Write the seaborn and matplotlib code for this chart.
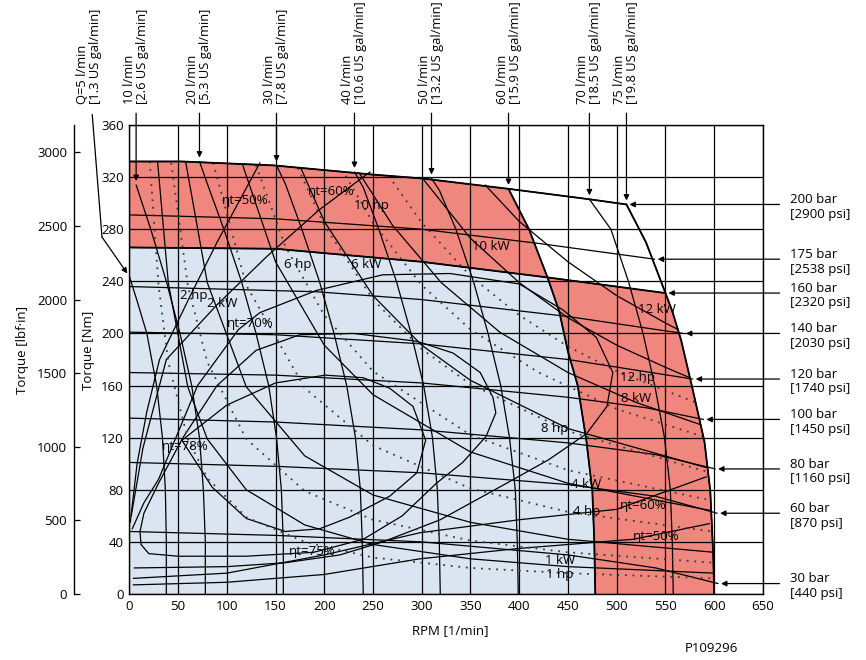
import pandas as pd
import seaborn as sns
import matplotlib.pyplot as plt

# ---- pressure lines (rpm, torque Nm) ----
p200_rpm = [0, 54, 148, 249, 300, 389, 472, 510]
p200_nm = [332, 332, 329, 322, 319, 311, 303, 299]
p175_rpm = [0, 150, 300, 421, 539]
p175_nm = [291, 288, 280, 269, 257]
p160_rpm = [0, 150, 300, 429, 550]
p160_nm = [266, 265, 255, 243, 231]
p140_rpm = [0, 192, 300, 450, 568]
p140_nm = [236, 232, 226, 213, 200]
p120_rpm = [0, 150, 300, 450, 578]
p120_nm = [201, 199, 192, 180, 165]
p100_rpm = [0, 150, 300, 450, 530, 589]
p100_nm = [170, 168, 162, 151, 143, 134]
p80_rpm = [0, 150, 300, 450, 540, 601]
p80_nm = [135, 132, 126, 116, 107, 96]
p60_rpm = [0, 150, 300, 450, 540, 603]
p60_nm = [101, 98, 93, 84, 75, 62]
p30_rpm = [0, 150, 300, 450, 540, 604]
p30_nm = [48, 45, 40, 30, 20, 8]

pressure_names = ['200 bar\n[2900 psi]', '175 bar\n[2538 psi]', '160 bar\n[2320 psi]',
                  '140 bar\n[2030 psi]', '120 bar\n[1740 psi]', '100 bar\n[1450 psi]',
                  '80 bar\n[1160 psi]', '60 bar\n[870 psi]', '30 bar\n[440 psi]']
pressure_lines = [(p200_rpm, p200_nm), (p175_rpm, p175_nm), (p160_rpm, p160_nm),
                  (p140_rpm, p140_nm), (p120_rpm, p120_nm), (p100_rpm, p100_nm),
                  (p80_rpm, p80_nm), (p60_rpm, p60_nm), (p30_rpm, p30_nm)]

# ---- flow lines ----
q5_rpm = [38, 38, 37, 34, 28, 18, 8, 0]
q5_nm = [0, 40, 80, 120, 160, 200, 225, 244]
q10_rpm = [78, 78, 76, 72, 64, 52, 38, 22, 7]
q10_nm = [0, 40, 80, 120, 160, 200, 240, 280, 314]
q20_rpm = [158, 158, 156, 151, 143, 130, 115, 97, 80, 72]
q20_nm = [0, 40, 80, 120, 160, 200, 240, 280, 315, 332]
q30_rpm = [240, 239, 237, 232, 223, 210, 195, 177, 160, 151]
q30_nm = [0, 40, 80, 120, 160, 200, 240, 280, 315, 329]
q40_rpm = [319, 318, 316, 311, 302, 289, 274, 256, 240, 231]
q40_nm = [0, 40, 80, 120, 160, 200, 240, 280, 312, 324]
q50_rpm = [399, 398, 396, 390, 381, 368, 353, 335, 318, 310]
q50_nm = [0, 40, 80, 120, 160, 200, 240, 280, 310, 319]
q60_rpm = [478, 477, 475, 469, 460, 450, 441, 429, 410, 389]
q60_nm = [0, 40, 79, 117, 160, 186, 217, 243, 280, 311]
q70_rpm = [558, 557, 555, 549, 539, 527, 512, 494, 472]
q70_nm = [0, 40, 80, 120, 160, 200, 240, 280, 303]
q75_rpm = [600, 599, 596, 590, 577, 566, 557, 550, 530, 510]
q75_nm = [0, 30, 79, 117, 160, 195, 217, 231, 270, 299]

flow_names = ['Q=5 l/min\n[1.3 US gal/min]', '10 l/min\n[2.6 US gal/min]',
              '20 l/min\n[5.3 US gal/min]', '30 l/min\n[7.8 US gal/min]',
              '40 l/min\n[10.6 US gal/min]', '50 l/min\n[13.2 US gal/min]',
              '60 l/min\n[15.9 US gal/min]', '70 l/min\n[18.5 US gal/min]',
              '75 l/min\n[19.8 US gal/min]']
flow_lines = [(q5_rpm, q5_nm), (q10_rpm, q10_nm), (q20_rpm, q20_nm), (q30_rpm, q30_nm),
              (q40_rpm, q40_nm), (q50_rpm, q50_nm), (q60_rpm, q60_nm), (q70_rpm, q70_nm),
              (q75_rpm, q75_nm)]

# ---- power lines, kW solid ----
kw1_rpm = [29, 40, 60, 80, 120, 180, 250, 350, 450, 600]
kw1_nm = [332, 239, 159, 119, 80, 53, 38, 27, 21, 16]
kw2_rpm = [58, 80, 120, 180, 250, 350, 450, 600]
kw2_nm = [331, 239, 159, 106, 76, 55, 42, 32]
kw4_rpm = [116, 150, 200, 250, 350, 450, 597]
kw4_nm = [330, 255, 191, 153, 109, 85, 64]
kw6_rpm = [176, 200, 250, 300, 350, 450, 592]
kw6_nm = [327, 286, 229, 191, 164, 127, 97]
kw8_rpm = [236, 270, 320, 380, 450, 520, 586]
kw8_nm = [323, 283, 239, 201, 170, 147, 130]
kw10_rpm = [302, 350, 400, 450, 500, 550, 575]
kw10_nm = [318, 273, 239, 212, 191, 174, 166]
kw12_rpm = [365, 400, 450, 500, 550, 563]
kw12_nm = [314, 286, 255, 229, 208, 203]

# ---- power lines, hp dotted ----
hp1_rpm = [21, 30, 40, 60, 80, 120, 180, 250, 350, 450, 600]
hp1_nm = [332, 237, 178, 119, 89, 59, 40, 28, 20, 16, 12]
hp2_rpm = [43, 60, 80, 120, 180, 250, 350, 450, 600]
hp2_nm = [331, 237, 178, 119, 79, 57, 41, 32, 24]
hp4_rpm = [86, 120, 180, 250, 350, 450, 598]
hp4_nm = [331, 237, 158, 114, 81, 63, 48]
hp6_rpm = [130, 160, 200, 250, 350, 450, 596]
hp6_nm = [329, 267, 214, 171, 122, 95, 72]
hp8_rpm = [173, 200, 250, 300, 350, 450, 592]
hp8_nm = [327, 283, 226, 188, 161, 125, 94]
hp10_rpm = [222, 250, 300, 350, 420, 500, 588]
hp10_nm = [321, 285, 237, 203, 170, 142, 121]
hp12_rpm = [266, 300, 350, 400, 450, 500, 581]
hp12_nm = [321, 285, 244, 214, 190, 171, 147]

kw_lines = [(kw1_rpm, kw1_nm), (kw2_rpm, kw2_nm), (kw4_rpm, kw4_nm), (kw6_rpm, kw6_nm),
            (kw8_rpm, kw8_nm), (kw10_rpm, kw10_nm), (kw12_rpm, kw12_nm)]
hp_lines = [(hp1_rpm, hp1_nm), (hp2_rpm, hp2_nm), (hp4_rpm, hp4_nm), (hp6_rpm, hp6_nm),
            (hp8_rpm, hp8_nm), (hp10_rpm, hp10_nm), (hp12_rpm, hp12_nm)]

# ---- total efficiency contours ----
eta50a_rpm = [1, 8, 18, 31, 60, 90, 134]
eta50a_nm = [55, 100, 140, 180, 225, 270, 331]
eta50b_rpm = [4, 100, 200, 298, 400, 517, 595]
eta50b_nm = [7, 9, 15, 27, 35, 42, 54]
eta60a_rpm = [2, 14, 38, 90, 141, 195, 247]
eta60a_nm = [60, 112, 180, 222, 259, 295, 324]
eta60b_rpm = [4, 100, 200, 298, 400, 500, 592]
eta60b_nm = [12, 16, 30, 47, 57, 65, 90]
eta70_rpm = [3, 15, 30, 70, 112, 134, 192, 260, 329, 400, 445, 479, 496, 490, 469, 430,
             387, 319, 260, 216, 160, 100, 5]
eta70_nm = [50, 70, 88, 160, 203, 216, 233, 245, 246, 238, 218, 197, 170, 144, 123, 103,
            85, 57, 40, 30, 24, 21, 20]
eta75_rpm = [11, 12, 20, 50, 120, 189, 240, 280, 315, 342, 366, 376, 373, 360, 332, 295,
             230, 175, 130, 90, 55, 30, 15, 11]
eta75_nm = [48, 38, 31, 29, 29, 32, 42, 60, 85, 101, 121, 139, 151, 170, 185, 194, 200,
            199, 187, 160, 120, 85, 62, 48]
eta78_rpm = [54, 100, 150, 201, 240, 267, 291, 304, 295, 267, 226, 195, 160, 120, 85, 54]
eta78_nm = [118, 145, 162, 168, 166, 158, 144, 118, 93, 75, 59, 50, 48, 58, 82, 118]

eta_lines = [(eta50a_rpm, eta50a_nm), (eta50b_rpm, eta50b_nm), (eta60a_rpm, eta60a_nm),
             (eta60b_rpm, eta60b_nm), (eta70_rpm, eta70_nm), (eta75_rpm, eta75_nm),
             (eta78_rpm, eta78_nm)]

# label texts and where they sit (rpm, Nm)
curve_labels = ['ηt=50%', 'ηt=60%', '10 hp', '6 hp', '6 kW', '2 hp', '2 kW', 'ηt=70%',
                'ηt=78%', 'ηt=75%', '10 kW', '12 kW', '12 hp', '8 kW', '8 hp', '4 kW',
                '4 hp', 'ηt=60%', 'ηt=50%', '1 kW', '1 hp']
label_rpm = [119, 207, 248, 173, 243, 66, 95, 124, 57, 188, 371, 541, 521, 520, 436, 469,
             469, 527, 541, 442, 442]
label_nm = [302, 309, 298, 253, 253, 229, 223, 208, 113, 33, 267, 218, 166, 150, 127, 84,
            63, 68, 44, 26, 15]


def to_frame(lines, tag):
    rows = []
    for i, (xs, ys) in enumerate(lines):
        for k, (x, y) in enumerate(zip(xs, ys)):
            rows.append({'curve': f'{tag}{i}', 'order': k, 'rpm': x, 'nm': y})
    return pd.DataFrame(rows)


sns.set_theme(style='white', rc={'axes.edgecolor': 'black', 'xtick.color': 'black',
                                 'ytick.color': 'black', 'text.color': 'black',
                                 'axes.labelcolor': 'black'})
plt.rcParams['font.family'] = ['Open Sans', 'DejaVu Sans']

fig = plt.figure(figsize=(8.66, 6.6), dpi=100)
ax = fig.add_axes([0.1493, 0.1, 0.7317, 0.7106])

red = '#F0877E'
blue = '#DAE5F1'

# operating areas
blue_x = [0] + p160_rpm[:4] + q60_rpm[7::-1]
blue_y = [0] + p160_nm[:4] + q60_nm[7::-1]
ax.fill(blue_x, blue_y, color=blue, lw=0, zorder=0.5)
red1_x = p200_rpm[:6] + q60_rpm[9:6:-1] + p160_rpm[3::-1]
red1_y = p200_nm[:6] + q60_nm[9:6:-1] + p160_nm[3::-1]
ax.fill(red1_x, red1_y, color=red, lw=0, zorder=0.5)
red2_x = p160_rpm[3:] + q75_rpm[7::-1] + q60_rpm[:8]
red2_y = p160_nm[3:] + q75_nm[7::-1] + q60_nm[:8]
ax.fill(red2_x, red2_y, color=red, lw=0, zorder=0.5)

solid = pd.concat([to_frame(pressure_lines, 'p'), to_frame(flow_lines, 'q'),
                   to_frame(kw_lines, 'kw'), to_frame(eta_lines, 'e')])
dotted = to_frame(hp_lines, 'hp')

sns.lineplot(data=solid, x='rpm', y='nm', units='curve', estimator=None, sort=False,
             color='black', linewidth=0.9, ax=ax, legend=False, zorder=3)
sns.lineplot(data=dotted, x='rpm', y='nm', units='curve', estimator=None, sort=False,
             color='#3a3a3a', linewidth=1.3, linestyle=(0, (1, 3.2)), ax=ax,
             legend=False, zorder=3)
# envelope lines a little heavier
for xs, ys in [(p200_rpm, p200_nm), (p160_rpm, p160_nm), (q60_rpm, q60_nm),
               (q75_rpm, q75_nm)]:
    ax.plot(xs, ys, color='black', lw=1.3, zorder=3.2)

ax.set_xlim(0, 650)
ax.set_ylim(0, 360)
ax.set_xticks(range(0, 651, 50))
ax.set_yticks(range(0, 361, 40))
ax.grid(True, color='black', lw=0.9)
ax.set_axisbelow(False)
ax.tick_params(length=0, labelsize=9.5, pad=4)
for s in ax.spines.values():
    s.set_color('black')
    s.set_linewidth(1.0)
ax.set_xlabel('')
ax.set_ylabel('')

for txt, x, y in zip(curve_labels, label_rpm, label_nm):
    ax.text(x, y, txt, fontsize=9.5, ha='center', va='center', zorder=5)

# flow labels at the top with arrows down to each flow line
arrow = dict(arrowstyle='-|>', color='black', lw=0.9, mutation_scale=8,
             shrinkA=0, shrinkB=0)
for i, (name, (xs, ys)) in enumerate(zip(flow_names, flow_lines)):
    top_x, top_y = xs[-1], ys[-1]
    if i == 0:
        ax.text(-41, 376, name, rotation=90, ha='center', va='bottom',
                multialignment='left', fontsize=9.3, linespacing=1.0, clip_on=False)
        ax.plot([-38, -28], [368, 274], color='black', lw=0.9, clip_on=False)
        ax.annotate('', xy=(top_x - 2, top_y + 2), xytext=(-28, 274), arrowprops=arrow,
                    annotation_clip=False)
    else:
        ax.text(top_x, 376, name, rotation=90, ha='center', va='bottom',
                multialignment='left', fontsize=9.3, linespacing=1.0, clip_on=False)
        ax.annotate('', xy=(top_x, top_y + 3), xytext=(top_x, 369), arrowprops=arrow,
                    annotation_clip=False)

# pressure labels on the right with arrows to the line ends
for name, (xs, ys) in zip(pressure_names, pressure_lines):
    end_x, end_y = xs[-1], ys[-1]
    ax.annotate('', xy=(end_x + 3, end_y), xytext=(667, end_y), arrowprops=arrow,
                annotation_clip=False)
    ax.text(678, end_y - 2, name, ha='left', va='center', fontsize=9.5,
            multialignment='left', linespacing=1.15, clip_on=False)

# second torque scale in lbf.in
sec = ax.secondary_yaxis(-0.087, functions=(lambda t: t * 8.8507, lambda t: t / 8.8507))
sec.set_yticks(range(0, 3001, 500))
sec.tick_params(direction='in', length=4, width=0.9, labelsize=9.5, pad=5)
sec.spines['left'].set_linewidth(1.0)

ax.text(-0.065, 0.52, 'Torque [Nm]', transform=ax.transAxes, rotation=90,
        ha='center', va='center', fontsize=9.5)
ax.text(-0.168, 0.52, 'Torque [lbf·in]', transform=ax.transAxes, rotation=90,
        ha='center', va='center', fontsize=9.5)
ax.text(0.506, -0.077, 'RPM [1/min]', transform=ax.transAxes, ha='center',
        va='center', fontsize=9.5)
fig.text(0.822, 0.018, 'P109296', ha='center', va='center', fontsize=9.5)

fig.savefig('out.png', dpi=100)
